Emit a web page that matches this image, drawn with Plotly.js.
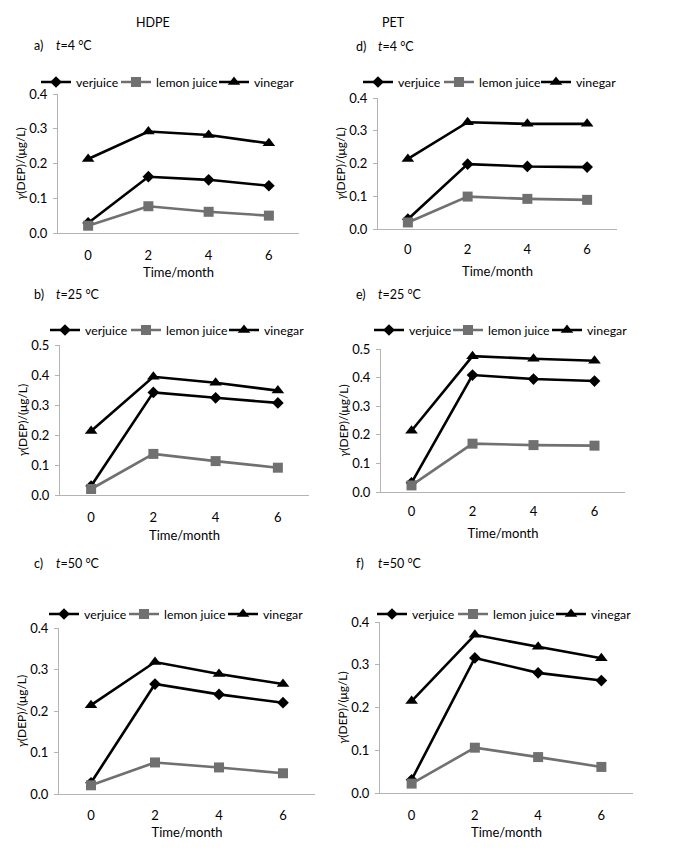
<!DOCTYPE html>
<html>
<head>
<meta charset="utf-8">
<script src="https://cdn.plot.ly/plotly-3.0.1.min.js"></script>
<style>html,body{margin:0;padding:0;background:#fff;}#chart{width:695px;height:853px;}</style>
</head>
<body>
<div id="chart"></div>
<script>
// ---- data ----
const months = [0, 2, 4, 6];
const seriesNames = ['verjuice', 'lemon juice', 'vinegar'];
const panelLabels = ['a)', 'b)', 'c)', 'd)', 'e)', 'f)'];
const panelTemps = ['4', '25', '50', '4', '25', '50'];
const materials = ['HDPE', 'PET'];

// HDPE
const hdpe4_verjuice = [0.029, 0.162, 0.153, 0.136];
const hdpe4_lemon    = [0.021, 0.077, 0.061, 0.050];
const hdpe4_vinegar  = [0.213, 0.292, 0.282, 0.258];
const hdpe25_verjuice = [0.030, 0.342, 0.324, 0.307];
const hdpe25_lemon    = [0.020, 0.137, 0.113, 0.091];
const hdpe25_vinegar  = [0.213, 0.394, 0.374, 0.348];
const hdpe50_verjuice = [0.027, 0.265, 0.240, 0.220];
const hdpe50_lemon    = [0.021, 0.076, 0.064, 0.050];
const hdpe50_vinegar  = [0.214, 0.318, 0.289, 0.265];
// PET
const pet4_verjuice = [0.030, 0.198, 0.191, 0.189];
const pet4_lemon    = [0.020, 0.099, 0.092, 0.089];
const pet4_vinegar  = [0.214, 0.326, 0.321, 0.321];
const pet25_verjuice = [0.032, 0.409, 0.395, 0.388];
const pet25_lemon    = [0.023, 0.169, 0.164, 0.162];
const pet25_vinegar  = [0.214, 0.475, 0.466, 0.459];
const pet50_verjuice = [0.031, 0.316, 0.281, 0.263];
const pet50_lemon    = [0.022, 0.106, 0.084, 0.061];
const pet50_vinegar  = [0.215, 0.370, 0.342, 0.315];

const yMax = [0.4, 0.5, 0.4, 0.4, 0.5, 0.4];
const tickText = ['0', '2', '4', '6'];

// ---- layout geometry (pixels) ----
const W = 695, H = 853;
const FONT = 'Lato, "Liberation Sans", sans-serif';
// legText: pixel x where each legend entry's text starts
const panels = [
  {data: [hdpe4_verjuice, hdpe4_lemon, hdpe4_vinegar],  x0: 58,  x1: 299, y0: 94,  y1: 233, legText: [80, 160, 258],  legY: 82,  hdrY: 45,  tls: 10, tstand: 6},
  {data: [hdpe25_verjuice, hdpe25_lemon, hdpe25_vinegar], x0: 60,  x1: 309, y0: 345, y1: 495, legText: [89, 170, 268],  legY: 330, hdrY: 294, tls: 10, tstand: 7},
  {data: [hdpe50_verjuice, hdpe50_lemon, hdpe50_vinegar], x0: 59,  x1: 315, y0: 628, y1: 794, legText: [88, 168, 267],  legY: 614, hdrY: 563, tls: 9,  tstand: 6},
  {data: [pet4_verjuice, pet4_lemon, pet4_vinegar],     x0: 378, x1: 617, y0: 98,  y1: 229, legText: [402, 483, 580], legY: 82,  hdrY: 46,  tls: 8,  tstand: 11},
  {data: [pet25_verjuice, pet25_lemon, pet25_vinegar],  x0: 381, x1: 625, y0: 349, y1: 492, legText: [413, 492, 591], legY: 330, hdrY: 294, tls: 7,  tstand: 11},
  {data: [pet50_verjuice, pet50_lemon, pet50_vinegar],  x0: 380, x1: 633, y0: 622, y1: 793, legText: [416, 497, 595], legY: 614, hdrY: 563, tls: 10, tstand: 6}
];
const styles = [
  {color: '#000000', symbol: 'diamond', size: 9},
  {color: '#707070', symbol: 'square', size: 10},
  {color: '#000000', symbol: 'triangle-up', size: 11}
];
const axisColor = '#b3b3b3';

const traces = [];
const layout = {
  width: W, height: H,
  margin: {l: 0, r: 0, t: 0, b: 0},
  paper_bgcolor: '#ffffff', plot_bgcolor: '#ffffff',
  font: {family: FONT, size: 12, color: '#000'},
  showlegend: true,
  annotations: []
};

let legCount = 0;
panels.forEach((p, i) => {
  const n = i + 1;
  const xa = 'xaxis' + (n === 1 ? '' : n), ya = 'yaxis' + (n === 1 ? '' : n);
  const xr = 'x' + (n === 1 ? '' : n), yr = 'y' + (n === 1 ? '' : n);
  p.data.forEach((vals, s) => {
    legCount += 1;
    const lg = 'legend' + (legCount === 1 ? '' : legCount);
    traces.push({
      type: 'scatter', mode: 'lines+markers',
      x: months, y: vals, name: seriesNames[s],
      xaxis: xr, yaxis: yr, legend: lg,
      line: {color: styles[s].color, width: 2.6},
      marker: {color: styles[s].color, symbol: styles[s].symbol, size: styles[s].size},
      hoverinfo: 'x+y'
    });
    layout[lg] = {
      orientation: 'h', x: (p.legText[s] - 44) / W, xanchor: 'left',
      y: 1 - p.legY / H, yanchor: 'middle',
      bgcolor: 'rgba(0,0,0,0)', borderwidth: 0,
      font: {family: FONT, size: 12.3}, itemwidth: 30, tracegroupgap: 0,
      itemclick: false, itemdoubleclick: false
    };
  });
  layout[xa] = {
    domain: [p.x0 / W, p.x1 / W], anchor: yr,
    range: [-1, 7], tickvals: months, ticktext: tickText,
    showline: true, linecolor: axisColor, linewidth: 1,
    showgrid: false, zeroline: false, ticks: '',
    ticklabelstandoff: p.tls,
    tickfont: {family: FONT, size: 13},
    title: {text: 'Time/month', font: {family: FONT, size: 13}, standoff: p.tstand}
  };
  layout[ya] = {
    domain: [1 - p.y1 / H, 1 - p.y0 / H], anchor: xr,
    range: [0, yMax[i]], dtick: 0.1, tickformat: '.1f',
    showline: true, linecolor: axisColor, linewidth: 1,
    showgrid: false, zeroline: false,
    ticks: 'outside', ticklen: 4, tickcolor: axisColor,
    ticklabelstandoff: 3,
    tickfont: {family: FONT, size: 13},
    title: {text: '<i>γ</i>(DEP)/(μg/L)', font: {family: FONT, size: 12}, standoff: 1}
  };
  const colX = i < 3 ? 0 : 322;
  layout.annotations.push({
    xref: 'paper', yref: 'paper', x: (colX + 32) / W, y: 1 - p.hdrY / H,
    xanchor: 'left', yanchor: 'middle', showarrow: false,
    text: panelLabels[i], font: {family: FONT, size: 12.5}
  });
  layout.annotations.push({
    xref: 'paper', yref: 'paper', x: (colX + 54) / W, y: 1 - p.hdrY / H,
    xanchor: 'left', yanchor: 'middle', showarrow: false,
    text: '<i>t</i>=' + panelTemps[i] + ' °C', font: {family: FONT, size: 12.5}
  });
});

layout.annotations.push({xref: 'paper', yref: 'paper', x: 153 / W, y: 1 - 23 / H, xanchor: 'center', yanchor: 'middle', showarrow: false, text: materials[0], font: {family: FONT, size: 12.5}});
layout.annotations.push({xref: 'paper', yref: 'paper', x: 393 / W, y: 1 - 23 / H, xanchor: 'center', yanchor: 'middle', showarrow: false, text: materials[1], font: {family: FONT, size: 12.5}});

Plotly.newPlot('chart', traces, layout, {displayModeBar: false, staticPlot: true});
</script>
</body>
</html>
